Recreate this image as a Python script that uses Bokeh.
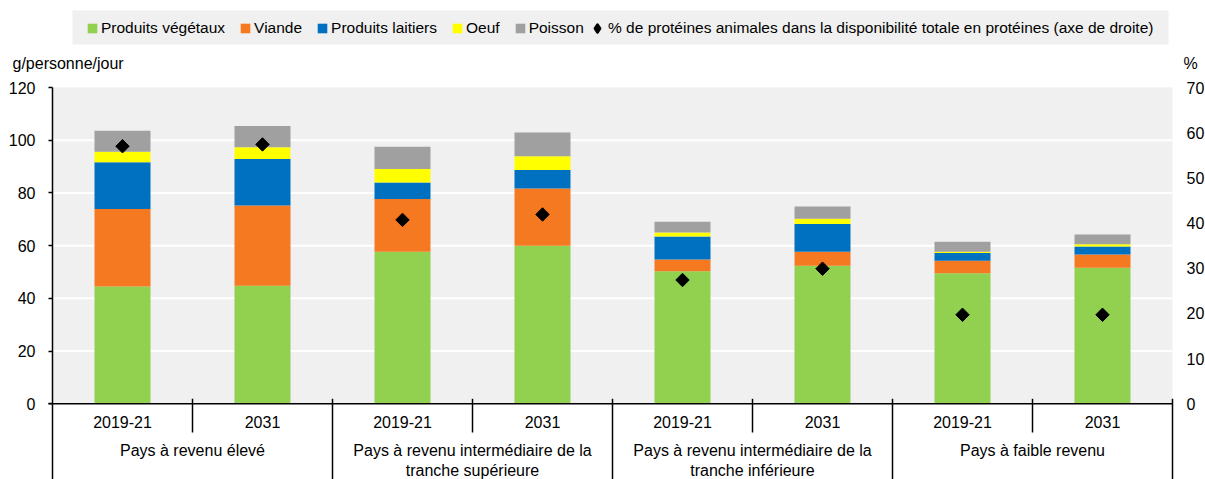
import numpy as np
from bokeh.plotting import figure
from bokeh.models import (Range1d, LinearAxis, FixedTicker, Legend, LegendItem, Label,
                          ColumnDataSource, BoxAnnotation)
from bokeh.core.properties import value
from bokeh.embed import file_html
from bokeh.resources import INLINE

FONT = "Liberation Sans"
FS = "16px"
LFS = "15.5px"

# ---------------- data ----------------
groups = ["Pays à revenu élevé",
          "Pays à revenu intermédiaire de la\ntranche supérieure",
          "Pays à revenu intermédiaire de la\ntranche inférieure",
          "Pays à faible revenu"]
periods = ["2019-21", "2031"]
series_names = ["Produits végétaux", "Viande", "Produits laitiers", "Oeuf", "Poisson"]
vegetal = [44.5, 44.8, 57.7, 60.0, 50.3, 52.4, 49.5, 51.6]
viande = [29.4, 30.4, 20.0, 21.7, 4.4, 5.3, 4.8, 5.0]
laitiers = [17.7, 17.7, 6.3, 7.0, 8.8, 10.5, 2.9, 3.1]
oeuf = [4.0, 4.4, 5.1, 5.2, 1.5, 2.0, 0.5, 0.8]
poisson = [8.0, 8.1, 8.4, 9.0, 4.1, 4.7, 3.8, 3.7]
pct_animal = [57.0, 57.4, 40.7, 41.9, 27.4, 29.9, 19.7, 19.7]
pct_label = "% de protéines animales dans la disponibilité totale en protéines (axe de droite)"
left_title = "g/personne/jour"
right_title = "%"
y_ticks = [0, 20, 40, 60, 80, 100, 120]
pct_ticks = [0, 10, 20, 30, 40, 50, 60, 70]
colors = ["#92d050", "#f47920", "#0070c0", "#ffff00", "#a0a0a0"]

# ---------------- layout (pixel geometry of the picture) ----------------
n = len(groups) * len(periods)
xs = [i + 0.5 for i in range(n)]
period_labels = periods * len(groups)
group_x = [len(periods) * g + len(periods) / 2 for g in range(len(groups))]

W, H = 1205, 479
X0_PX, XN_PX = 52.0, 1172.0      # x pixel of slot 0 and slot n
Y0_PX, YTOP_PX = 403.3, 87.0     # y pixel of value 0 and of the top tick
Y_MAX = y_ticks[-1]
P_MAX = pct_ticks[-1]
SX = (XN_PX - X0_PX) / n
SY = (Y0_PX - YTOP_PX) / Y_MAX


def dx(px):
    return (px - X0_PX) / SX


def dy(py):
    return (Y0_PX - py) / SY


y_lo, y_hi = dy(H), dy(0)
p = figure(width=W, height=H, x_range=Range1d(dx(0), dx(W)), y_range=Range1d(y_lo, y_hi),
           output_backend="svg", toolbar_location=None, x_axis_location=None,
           y_axis_location=None, min_border=0,
           background_fill_color="white", border_fill_color="white", outline_line_color=None)
p.extra_y_ranges = {"pct": Range1d(y_lo * P_MAX / Y_MAX, y_hi * P_MAX / Y_MAX)}
p.xgrid.visible = False
p.ygrid.visible = False

# grey plotting area
p.add_layout(BoxAnnotation(left=0, right=n, bottom=0, top=Y_MAX, fill_color="#f0f0f0",
                           fill_alpha=1, line_color=None, level="underlay"))
# white gridlines
grid_vals = [t for t in y_ticks if 0 < t < Y_MAX]
p.segment(x0=[0] * len(grid_vals), x1=[n] * len(grid_vals), y0=grid_vals, y1=grid_vals,
          line_color="white", line_width=2)

# axes drawn at fixed data locations
yax = LinearAxis(fixed_location=0, ticker=FixedTicker(ticks=y_ticks), axis_line_color=None,
                 major_tick_line_color="black", major_tick_line_width=1.5,
                 major_tick_out=4, major_tick_in=0, minor_tick_line_color=None,
                 major_label_standoff=13, major_label_text_font=FONT,
                 major_label_text_font_size=FS, major_label_text_color="black")
p.add_layout(yax, "left")
rax = LinearAxis(y_range_name="pct", fixed_location=n, ticker=FixedTicker(ticks=pct_ticks),
                 axis_line_color=None, major_tick_line_color=None, minor_tick_line_color=None,
                 major_tick_out=0, major_tick_in=0, major_label_standoff=14,
                 major_label_text_font=FONT, major_label_text_font_size=FS,
                 major_label_text_color="black")
p.add_layout(rax, "right")

src = ColumnDataSource(dict(x=xs, veg=vegetal, viande=viande, lait=laitiers,
                            oeuf=oeuf, poisson=poisson, pct=pct_animal))
keys = ["veg", "viande", "lait", "oeuf", "poisson"]
bars = p.vbar_stack(keys, x="x", width=0.4, color=colors, source=src, line_color=None)

dots = p.scatter(x="x", y="pct", source=src, y_range_name="pct", marker="square",
                 angle=np.pi / 4, size=9.5, color="black")
# legend proxy for the diamond (a single undefined point, nothing is drawn)
dot_proxy = p.scatter(x=[np.nan], y=[np.nan], marker="diamond", fill_color="black",
                      line_color="black", line_width=2.5, line_join="round")

# axis lines: left axis from top tick down, x axis at 0
p.segment(x0=[0], x1=[0], y0=[Y_MAX], y1=[y_lo], line_color="black", line_width=1.5)
p.segment(x0=[dx(X0_PX - 4)], x1=[n], y0=[0], y1=[0], line_color="black", line_width=1.5)

# category separators
tick_up = dy(Y0_PX - 5)
short_x = [len(periods) * g + 1 for g in range(len(groups))]
long_x = [len(periods) * (g + 1) for g in range(len(groups))]
p.segment(x0=short_x, x1=short_x, y0=[tick_up] * len(short_x),
          y1=[dy(432)] * len(short_x), line_color="black", line_width=1.5)
p.segment(x0=long_x, x1=long_x, y0=[tick_up] * len(long_x), y1=[y_lo] * len(long_x),
          line_color="black", line_width=1.5)

# category labels
p.text(x=xs, y=[dy(421.5)] * n, text=period_labels, text_align="center",
       text_baseline="middle", text_font=value(FONT), text_font_size=FS, text_color="black")
p.text(x=group_x, y=[dy(441)] * len(group_x), text=groups, text_align="center",
       text_baseline="top", text_font=value(FONT), text_font_size=FS,
       text_color="black", text_line_height=1.2)

# axis titles
p.add_layout(Label(x=dx(12), y=dy(63), text=left_title, text_baseline="middle",
                   text_align="left", text_font=FONT, text_font_size=FS, text_color="black"))
p.add_layout(Label(x=dx(1183), y=dy(63), text=right_title, text_baseline="middle",
                   text_align="left", text_font=FONT, text_font_size=FS, text_color="black"))

# legend background and legends
p.add_layout(BoxAnnotation(left=dx(72), right=dx(1168), top=dy(10), bottom=dy(44),
                           fill_color="#f0f0f0", fill_alpha=1, line_color=None,
                           level="annotation"))
LEG_BOTTOM = H - 38
common = dict(orientation="horizontal", padding=7,
              label_height=20, margin=0, background_fill_alpha=0,
              border_line_color=None, label_text_font=FONT,
              label_text_font_size=LFS, label_text_color="black")
leg1 = Legend(items=[LegendItem(label=nm, renderers=[r]) for nm, r in zip(series_names, bars)],
              location=(86, LEG_BOTTOM), glyph_width=12, glyph_height=12,
              label_standoff=3, spacing=14, **common)
leg2 = Legend(items=[LegendItem(label=pct_label, renderers=[dot_proxy])],
              location=(587, LEG_BOTTOM), glyph_width=20, glyph_height=20,
              label_standoff=1, spacing=14, **common)
p.add_layout(leg1, "center")
p.add_layout(leg2, "center")

open("out.html", "w").write(file_html(p, INLINE))
